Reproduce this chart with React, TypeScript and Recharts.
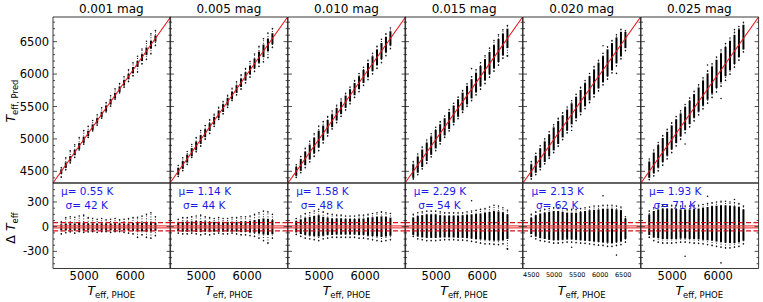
import React from 'react';
import { ComposedChart, XAxis, YAxis, Scatter, ReferenceLine } from 'recharts';

const MAG_LABELS = ['0.001 mag', '0.005 mag', '0.010 mag', '0.015 mag', '0.020 mag', '0.025 mag'];
const MU = ['0.55', '1.14', '1.58', '2.29', '2.13', '1.93'];
const SIGMA = ['42', '44', '48', '54', '62', '71'];

// Teff grid of the test stars (K)
const TEFF_GRID = [4500, 4598, 4695, 4793, 4890, 4988, 5086, 5183, 5281, 5379, 5476, 5574, 5671, 5769, 5867, 5964, 6062, 6160, 6257, 6355, 6452, 6550];

// residual spread per grid column, one row per noise level
const TAIL_HI = [
  [60, 110, 120, 115, 130, 140, 110, 100, 90, 100, 85, 90, 100, 85, 90, 100, 110, 115, 130, 150, 170, 120],
  [90, 110, 110, 120, 130, 140, 120, 110, 100, 110, 100, 100, 110, 110, 120, 120, 130, 150, 170, 190, 180, 150],
  [100, 130, 160, 170, 190, 210, 180, 160, 150, 140, 140, 130, 130, 130, 140, 140, 150, 160, 170, 180, 170, 160],
  [150, 170, 180, 190, 190, 190, 180, 170, 170, 170, 170, 170, 180, 190, 200, 210, 220, 240, 260, 250, 230, 200],
  [150, 180, 200, 210, 220, 230, 230, 220, 210, 210, 210, 220, 230, 240, 250, 250, 260, 260, 260, 250, 240, 120],
  [190, 230, 250, 260, 260, 260, 260, 250, 250, 250, 260, 260, 270, 280, 290, 300, 310, 310, 300, 290, 280, 250],
];
const CORE_HI = [
  [30, 40, 40, 40, 45, 45, 40, 40, 40, 40, 40, 40, 40, 40, 40, 40, 45, 45, 50, 55, 60, 45],
  [55, 60, 65, 65, 70, 70, 65, 60, 60, 60, 60, 60, 60, 60, 65, 65, 70, 80, 90, 100, 95, 80],
  [70, 90, 110, 120, 130, 140, 120, 110, 100, 100, 100, 95, 95, 95, 100, 100, 110, 115, 120, 125, 120, 110],
  [110, 130, 140, 150, 150, 150, 140, 135, 135, 135, 135, 140, 145, 150, 155, 160, 170, 180, 190, 185, 175, 150],
  [110, 140, 160, 170, 180, 190, 190, 180, 170, 170, 170, 180, 190, 200, 205, 210, 215, 220, 220, 210, 200, 100],
  [150, 190, 210, 220, 220, 220, 215, 210, 210, 210, 215, 220, 230, 240, 250, 255, 260, 260, 255, 250, 240, 210],
];
const CORE_LO = [
  [-40, -45, -45, -45, -45, -50, -45, -45, -45, -45, -45, -45, -45, -45, -45, -45, -50, -50, -55, -60, -60, -50],
  [-55, -60, -60, -60, -65, -65, -60, -60, -60, -60, -60, -60, -60, -60, -65, -65, -70, -75, -85, -95, -100, -90],
  [-70, -90, -100, -110, -115, -120, -110, -100, -100, -95, -95, -95, -95, -95, -100, -100, -110, -115, -120, -125, -120, -110],
  [-100, -120, -130, -135, -135, -135, -130, -130, -130, -130, -135, -135, -140, -145, -150, -155, -160, -165, -170, -170, -165, -150],
  [-90, -120, -140, -150, -160, -165, -165, -160, -155, -155, -160, -165, -170, -175, -180, -185, -190, -195, -200, -190, -180, -150],
  [-100, -130, -140, -150, -150, -150, -150, -145, -145, -150, -150, -155, -160, -165, -170, -180, -190, -195, -200, -200, -190, -170],
];
const TAIL_LO = [
  [-90, -75, -65, -80, -60, -70, -65, -60, -70, -60, -60, -70, -60, -60, -70, -80, -90, -130, -100, -130, -140, -110],
  [-80, -90, -90, -80, -90, -100, -90, -100, -90, -80, -90, -90, -80, -90, -100, -100, -110, -120, -140, -170, -200, -140],
  [-95, -120, -140, -150, -160, -170, -150, -140, -130, -130, -130, -130, -130, -130, -140, -140, -150, -160, -170, -180, -170, -160],
  [-120, -150, -160, -170, -170, -170, -165, -160, -160, -160, -165, -165, -170, -180, -190, -200, -210, -210, -215, -220, -210, -270],
  [-120, -150, -170, -180, -190, -200, -200, -195, -190, -190, -195, -200, -205, -210, -220, -225, -230, -240, -240, -230, -220, -190],
  [-130, -170, -190, -200, -200, -200, -195, -190, -190, -195, -200, -205, -210, -220, -230, -240, -250, -260, -260, -250, -240, -210],
];
const OUTLIERS = [
  [],
  [],
  [],
  [[5769, 315], [6550, -270]],
  [[6062, 375], [6355, -345], [5379, -250]],
  [[5769, 370], [6062, -440], [5281, -360], [6355, 330]],
];

const TEFF_DOM = [4320, 6880];
const RES_DOM = [-508, 531];
const X_TICKS = [5000, 6000];
const X_TICKS_FINE = [4500, 5000, 5500, 6000, 6500];
const X_MINOR = [4400, 4600, 4800, 5200, 5400, 5600, 5800, 6200, 6400, 6600, 6800];
const X_MINOR_FINE = [4400, 4600, 4700, 4800, 4900, 5100, 5200, 5300, 5400, 5600, 5700, 5800, 5900, 6100, 6200, 6300, 6400, 6600, 6700, 6800];
const Y_TICKS = [4500, 5000, 5500, 6000, 6500];
const Y_MINOR = [4400, 4600, 4700, 4800, 4900, 5100, 5200, 5300, 5400, 5600, 5700, 5800, 5900, 6100, 6200, 6300, 6400, 6600, 6700, 6800];
const R_TICKS = [-300, 0, 300];
const R_MINOR = [-450, -375, -225, -150, -75, 75, 150, 225, 375, 450];
const R_LINES_DASHED = [50, -50];
const R_LINES_SOLID = [10, -14];

const X0 = 52.5;
const PW = 117.6;
const TOP_Y = 17;
const TOP_H = 166;
const RES_Y = 183;
const RES_H = 85.5;

const FONT = '"DejaVu Sans", sans-serif';
const FRAME = '#222';
const THIN = 0.01;
const blank = () => <g />;
const dot = (p: any) => <circle cx={p.cx} cy={p.cy} r={0.8} fill="#111" />;

function Panel({ i, kind }: { i: number; kind: 'top' | 'res' }) {
  const top = kind === 'top';
  const left = X0 + i * PW;
  const plotTop = top ? TOP_Y : RES_Y;
  const plotH = top ? TOP_H : RES_H;
  const yDom = top ? TEFF_DOM : RES_DOM;
  const yTicks = top ? Y_TICKS : R_TICKS;
  const yMinor = top ? Y_MINOR : R_MINOR;
  const fine = i === 4;
  const xTicks = fine ? X_TICKS_FINE : X_TICKS;
  const xMinor = fine ? X_MINOR_FINE : X_MINOR;
  const v = (x: number, r: number) => (top ? x + r : r);

  const pts: { x: number; y: number }[] = [];
  TEFF_GRID.forEach((x, k) => {
    pts.push({ x, y: v(x, TAIL_HI[i][k]) });
    pts.push({ x, y: v(x, TAIL_LO[i][k]) });
  });
  OUTLIERS[i].forEach(([x, r]) => pts.push({ x, y: v(x, r) }));

  const ML = 50, MR = 4, MT = 4, MB = 22;
  const common = { type: 'number' as const, allowDataOverflow: true, interval: 0 as const };
  const tickAxis = (id: string, orient: string, ticks: number[], size: number, line: boolean, isX: boolean) =>
    isX ? (
      <XAxis key={id} xAxisId={id} {...common} domain={TEFF_DOM} ticks={ticks} orientation={orient as any} mirror height={THIN}
        tick={blank} tickSize={size} tickLine={{ stroke: FRAME, strokeWidth: 0.8 }} axisLine={line ? { stroke: FRAME, strokeWidth: 0.9 } : false} />
    ) : (
      <YAxis key={id} yAxisId={id} {...common} domain={yDom} ticks={ticks} orientation={orient as any} mirror width={THIN}
        tick={blank} tickSize={size} tickLine={{ stroke: FRAME, strokeWidth: 0.8 }} axisLine={line ? { stroke: FRAME, strokeWidth: 0.9 } : false} />
    );

  return (
    <div style={{ position: 'absolute', left: left - ML, top: plotTop - MT }}>
      <ComposedChart width={PW + ML + MR} height={plotH + MT + MB} margin={{ top: MT, right: MR, bottom: MB, left: ML }}>
        <XAxis xAxisId="x" {...common} dataKey="x" domain={TEFF_DOM} ticks={xTicks} hide={top} height={THIN}
          tickLine={false} axisLine={false} tickSize={0} tickMargin={fine ? 4 : 3}
          tick={{ fontSize: fine ? 6.5 : 11.5, fill: '#000', fontFamily: FONT }} />
        <YAxis yAxisId="y" {...common} dataKey="y" domain={yDom} ticks={yTicks} hide={i !== 0} width={THIN}
          tickLine={false} axisLine={false} tickSize={0} tickMargin={4}
          tick={{ fontSize: 11.5, fill: '#000', fontFamily: FONT }} />
        {tickAxis('xb', 'bottom', xTicks, 4, true, true)}
        {tickAxis('xbm', 'bottom', xMinor, 2, false, true)}
        {tickAxis('xt', 'top', xTicks, 4, true, true)}
        {tickAxis('xtm', 'top', xMinor, 2, false, true)}
        {tickAxis('yl', 'left', yTicks, 4, true, false)}
        {tickAxis('ylm', 'left', yMinor, 2, false, false)}
        {tickAxis('yr', 'right', yTicks, 4, true, false)}
        {tickAxis('yrm', 'right', yMinor, 2, false, false)}
        {TEFF_GRID.map((x, k) => (
          <ReferenceLine key={'t' + k} xAxisId="x" yAxisId="y" stroke="#333" strokeWidth={1.1} strokeDasharray="1 1.6"
            segment={[{ x, y: v(x, TAIL_LO[i][k]) }, { x, y: v(x, TAIL_HI[i][k]) }]} />
        ))}
        {TEFF_GRID.map((x, k) => (
          <ReferenceLine key={'c' + k} xAxisId="x" yAxisId="y" stroke="#000" strokeWidth={2}
            segment={[{ x, y: v(x, CORE_LO[i][k]) }, { x, y: v(x, CORE_HI[i][k]) }]} />
        ))}
        <Scatter xAxisId="x" yAxisId="y" data={pts} dataKey="y" shape={dot} isAnimationActive={false} />
        {top && (
          <ReferenceLine xAxisId="x" yAxisId="y" stroke="#e8141c" strokeWidth={1.1}
            segment={[{ x: TEFF_DOM[0], y: TEFF_DOM[0] }, { x: TEFF_DOM[1], y: TEFF_DOM[1] }]} />
        )}
        {!top && R_LINES_SOLID.map((y) => (
          <ReferenceLine key={'s' + y} xAxisId="x" yAxisId="y" y={y} stroke="#f04848" strokeWidth={1.2} />
        ))}
        {!top && R_LINES_DASHED.map((y) => (
          <ReferenceLine key={'d' + y} xAxisId="x" yAxisId="y" y={y} stroke="#d8101a" strokeWidth={1.2} strokeDasharray="5 2.5" />
        ))}
      </ComposedChart>
    </div>
  );
}

const abs = (l: number, t: number, extra: React.CSSProperties = {}): React.CSSProperties => ({
  position: 'absolute', left: l, top: t, fontFamily: FONT, whiteSpace: 'nowrap', lineHeight: 1, ...extra,
});

function TeffLabel({ sub }: { sub: string }) {
  return (
    <span>
      <i style={{ fontSize: 12.5 }}>T</i>
      <span style={{ fontSize: 8.5, position: 'relative', top: 3 }}>{sub}</span>
    </span>
  );
}

export default function App() {
  const idx = [0, 1, 2, 3, 4, 5];
  return (
    <div style={{ position: 'absolute', left: 0, top: 0, width: 763, height: 302, background: '#fff', overflow: 'hidden' }}>
      {idx.map((i) => <Panel key={'p' + i} i={i} kind="top" />)}
      {idx.map((i) => <Panel key={'r' + i} i={i} kind="res" />)}
      {idx.map((i) => (
        <div key={'m' + i} style={abs(X0 + i * PW + PW / 2, 9, { fontSize: 12, transform: 'translate(-50%,-50%)' })}>
          {MAG_LABELS[i]}
        </div>
      ))}
      {idx.map((i) => (
        <div key={'mu' + i} style={abs(X0 + i * PW + 8.5, 186, { fontSize: 10.5, color: '#1a1ae6' })}>
          μ= {MU[i]} K
        </div>
      ))}
      {idx.map((i) => (
        <div key={'sg' + i} style={abs(X0 + i * PW + 13, 200, { fontSize: 10.5, color: '#1a1ae6' })}>
          σ= {SIGMA[i]} K
        </div>
      ))}
      {idx.map((i) => (
        <div key={'xl' + i} style={abs(X0 + i * PW + PW / 2, 290, { transform: 'translate(-50%,-50%)' })}>
          <TeffLabel sub="eff, PHOE" />
        </div>
      ))}
      <div style={abs(10, 101, { transform: 'translate(-50%,-50%) rotate(-90deg)' })}>
        <TeffLabel sub="eff, Pred" />
      </div>
      <div style={abs(10, 228, { transform: 'translate(-50%,-50%) rotate(-90deg)' })}>
        <span style={{ fontSize: 12.5 }}>Δ </span>
        <TeffLabel sub="eff" />
      </div>
    </div>
  );
}
